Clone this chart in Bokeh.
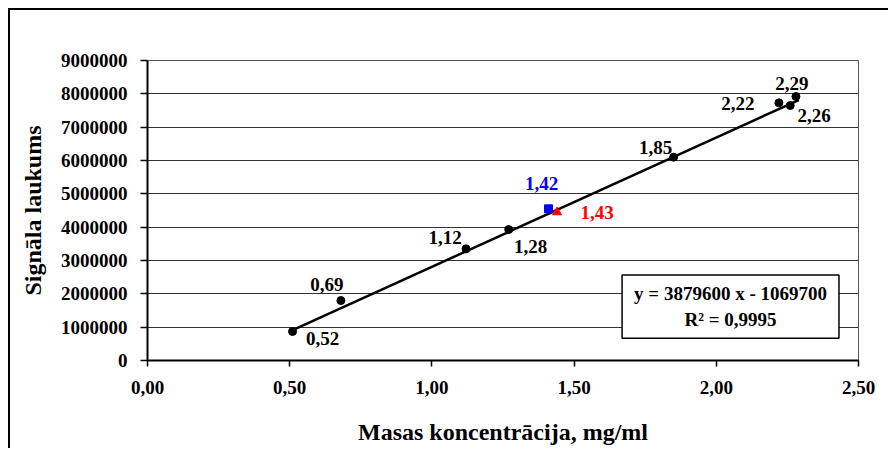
from bokeh.plotting import figure
from bokeh.models import ColumnDataSource, Range1d, FixedTicker, Label
from bokeh.core.properties import value
from bokeh.embed import file_html
from bokeh.resources import INLINE

# ---- data ----
conc = [0.51, 0.68, 1.12, 1.27, 1.85, 2.22, 2.26, 2.28]
area = [870000, 1800000, 3350000, 3930000, 6100000, 7730000, 7650000, 7920000]
conc_labels = ["0,52", "0,69", "1,12", "1,28", "1,85", "2,22", "2,26", "2,29"]

blue_conc = [1.41]
blue_area = [4550000]
blue_labels = ["1,42"]

red_conc = [1.44]
red_area = [4450000]
red_labels = ["1,43"]

slope = 3879600
intercept = -1069700
r2_text = "0,9995"
trend_x = [0.52, 2.29]

x_ticks = [0.0, 0.5, 1.0, 1.5, 2.0, 2.5]
x_tick_labels = ["0,00", "0,50", "1,00", "1,50", "2,00", "2,50"]
y_ticks = [0, 1000000, 2000000, 3000000, 4000000, 5000000, 6000000, 7000000, 8000000, 9000000]
y_tick_labels = [str(v) for v in y_ticks]

# label offsets (screen px, style only)
lab_dx = [30, -14, -21, 22, -18, -41, 24, -4]
lab_dy = [7, -16, -11, 17, -10, 1, 10, -13]

FONT = "Liberation Serif"

p = figure(width=880, height=440, output_backend="svg", toolbar_location=None,
           x_range=Range1d(0, 2.5), y_range=Range1d(0, 9000000),
           min_border_left=137, min_border_right=32, min_border_top=50, min_border_bottom=90)
p.styles = {"margin-left": "8px", "margin-top": "8px",
            "border-left": "2px solid black", "border-top": "2px solid black"}
p.background_fill_color = "white"
p.border_fill_color = "white"
p.outline_line_color = "#555555"
p.outline_line_width = 1

p.xgrid.visible = False
p.ygrid.ticker = FixedTicker(ticks=y_ticks)
p.ygrid.grid_line_color = "#333333"
p.ygrid.grid_line_width = 1

p.xaxis.ticker = FixedTicker(ticks=x_ticks)
p.xaxis.major_label_overrides = {t: l for t, l in zip(x_ticks, x_tick_labels)}
p.yaxis.ticker = FixedTicker(ticks=y_ticks)
p.yaxis.major_label_overrides = {t: l for t, l in zip(y_ticks, y_tick_labels)}

for ax in (p.xaxis[0], p.yaxis[0]):
    ax.axis_line_color = "black"
    ax.axis_line_width = 2
    ax.major_tick_line_color = "black"
    ax.major_tick_line_width = 1.5
    ax.major_tick_in = 0
    ax.minor_tick_line_color = None
    ax.major_label_text_font = FONT
    ax.major_label_text_font_style = "bold"
    ax.major_label_text_font_size = "19px"
    ax.major_label_text_color = "black"
    ax.axis_label_text_font = FONT
    ax.axis_label_text_font_style = "bold"
    ax.axis_label_text_font_size = "24px"
    ax.axis_label_text_color = "black"

p.xaxis.major_tick_out = 6
p.yaxis.major_tick_out = 7
p.xaxis.major_label_standoff = 14
p.yaxis.major_label_standoff = 13
p.xaxis.axis_label = "Masas koncentrācija, mg/ml"
p.yaxis.axis_label = "Signāla laukums"
p.xaxis.axis_label_standoff = 22
p.yaxis.axis_label_standoff = 12

# trend line
trend_y = [slope * x + intercept for x in trend_x]
p.line(trend_x, trend_y, line_color="black", line_width=2.5)

# points
src = ColumnDataSource(dict(x=conc, y=area, t=conc_labels, dx=lab_dx, dy=lab_dy))
p.scatter("x", "y", source=src, marker="circle", size=8, fill_color="black", line_color="black")
p.text("x", "y", text="t", x_offset="dx", y_offset="dy", source=src,
       text_font=value(FONT), text_font_style="bold", text_font_size="19px",
       text_color="black", text_align="center", text_baseline="middle")

p.scatter(blue_conc, blue_area, marker="square", size=8, fill_color="blue", line_color="blue")
p.text(blue_conc, blue_area, text=blue_labels, x_offset=-7, y_offset=-25,
       text_font=value(FONT), text_font_style="bold", text_font_size="19px",
       text_color="blue", text_align="center", text_baseline="middle")

p.scatter(red_conc, red_area, marker="triangle", size=9, fill_color="red", line_color="red")
p.text(red_conc, red_area, text=red_labels, x_offset=40, y_offset=0,
       text_font=value(FONT), text_font_style="bold", text_font_size="19px",
       text_color="red", text_align="center", text_baseline="middle")

eq = Label(x=2.05, y=1620000,
           text=f"y = {slope} x - {abs(intercept)}\nR² = {r2_text}",
           text_font=FONT, text_font_style="bold", text_font_size="19px",
           text_color="black", text_align="center", anchor="center",
           text_line_height=1.25,
           background_fill_color="white", border_line_color="black", border_line_width=1.5,
           padding=(12, 8))
p.add_layout(eq)

open("out.html", "w").write(file_html(p, INLINE))
